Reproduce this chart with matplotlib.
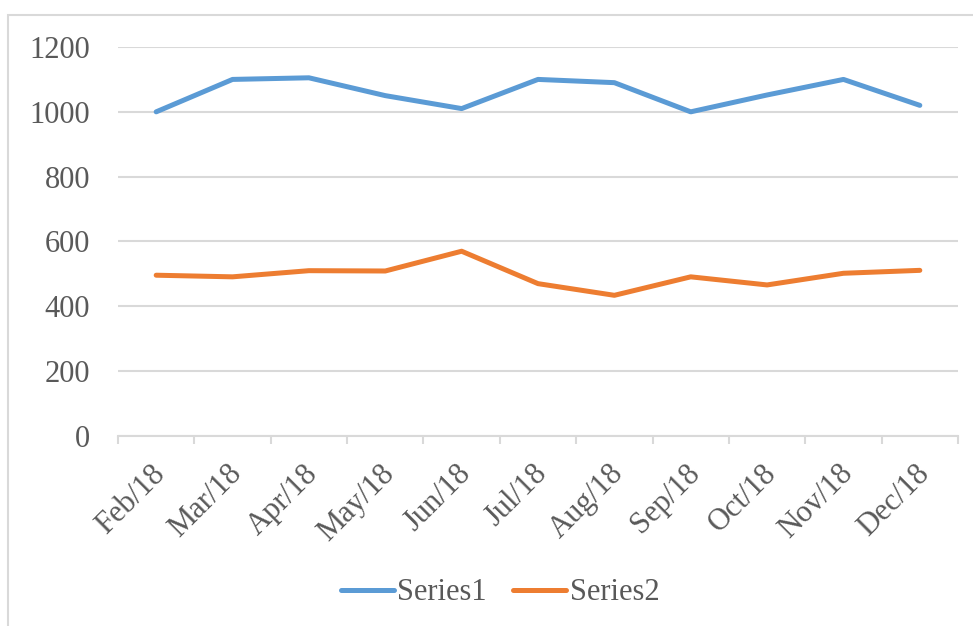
import matplotlib.pyplot as plt
import matplotlib.transforms as mtransforms
import numpy as np
from matplotlib.patches import Rectangle

# chart data
months = ['Feb/18', 'Mar/18', 'Apr/18', 'May/18', 'Jun/18', 'Jul/18',
          'Aug/18', 'Sep/18', 'Oct/18', 'Nov/18', 'Dec/18']
series1 = [1000, 1100, 1105, 1050, 1010, 1100, 1090, 1000, 1052, 1100, 1020]
series2 = [496, 491, 510, 509, 570, 470, 434, 491, 466, 502, 511]
yticks = [0, 200, 400, 600, 800, 1000, 1200]

text_col = '#595959'
grid_col = '#D9D9D9'
plt.rcParams['font.family'] = ['Liberation Serif', 'DejaVu Serif']

fig = plt.figure(figsize=(9.73, 6.26), dpi=100)
ax = fig.add_axes([118 / 973, 1 - 436 / 626, 840 / 973, 389 / 626])

# outer chart frame (cut off at right and bottom)
fig.patches.append(Rectangle((8 / 973, -0.1), 1.2, 1.1 - 15 / 626,
                             transform=fig.transFigure, fill=False,
                             edgecolor=grid_col, linewidth=1.5))

x = np.arange(len(months))
ax.plot(x, series1, color='#5B9BD5', linewidth=3.6, label='Series1',
        solid_capstyle='round', solid_joinstyle='round')
ax.plot(x, series2, color='#ED7D31', linewidth=3.6, label='Series2',
        solid_capstyle='round', solid_joinstyle='round')

ax.set_xlim(-0.5, len(months) - 0.5)
ax.set_ylim(0, 1200)
ax.set_yticks(yticks)
ax.set_yticklabels([str(v) for v in yticks])
ax.grid(axis='y', color=grid_col, linewidth=1.5)
ax.set_axisbelow(True)

ax.set_xticks(x)
ax.set_xticklabels(months, rotation=45, ha='right', va='center',
                   rotation_mode='anchor')
ax.set_xticks(np.arange(-0.5, len(months)), minor=True)
ax.tick_params(axis='x', which='major', length=0, pad=24, labelsize=22,
               labelcolor=text_col)
ax.tick_params(axis='x', which='minor', length=6, color=grid_col, width=1.5)
ax.tick_params(axis='y', length=0, pad=20, labelsize=22, labelcolor=text_col)

shift = mtransforms.ScaledTranslation(5 / 100, 0, fig.dpi_scale_trans)
for lab in ax.get_xticklabels():
    lab.set_transform(lab.get_transform() + shift)

for s in ['top', 'right', 'left']:
    ax.spines[s].set_visible(False)
ax.spines['bottom'].set_color(grid_col)
ax.spines['bottom'].set_linewidth(1.5)

leg = fig.legend(loc='center', bbox_to_anchor=(500 / 973, 1 - 593 / 626),
                 ncol=2, frameon=False, fontsize=22, handlelength=1.75,
                 handletextpad=0.1, columnspacing=0.85, labelcolor=text_col)

fig.savefig('out.png', dpi=100)
